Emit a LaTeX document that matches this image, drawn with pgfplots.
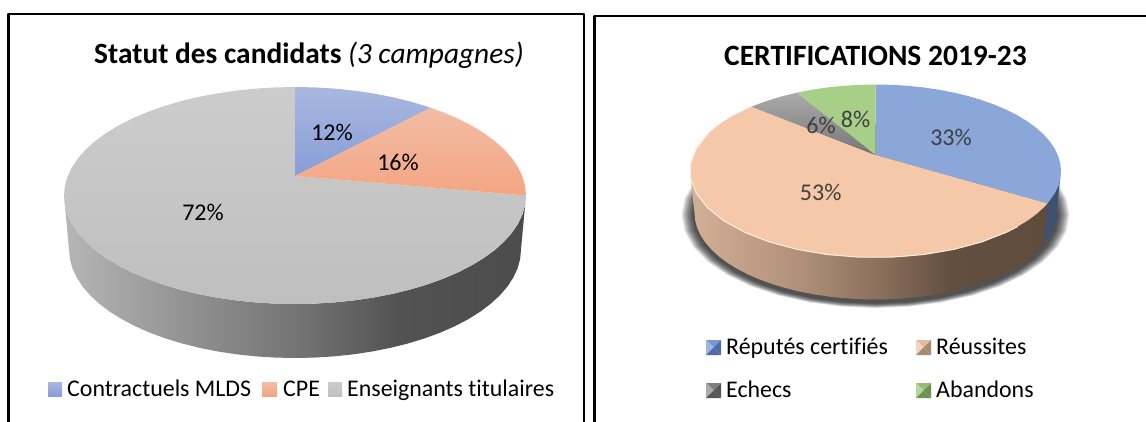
\documentclass[border=0pt]{standalone}
\usepackage{pgfplots}
\usepackage{pgfplotstable}
\usepackage{fontspec}
\setmainfont[Ligatures=NoCommon]{Carlito}
\pgfplotsset{compat=1.18}

\definecolor{Lblue1}{HTML}{AAB8DF}\definecolor{Lblue2}{HTML}{879DD8}
\definecolor{Lpeach1}{HTML}{F2BDA6}\definecolor{Lpeach2}{HTML}{F4A582}
\definecolor{Lgray1}{HTML}{CCCCCC}\definecolor{Lgray2}{HTML}{BFBFBF}
\definecolor{wl0}{HTML}{B6B6B6}\definecolor{wl1}{HTML}{8E8E8E}\definecolor{wl2}{HTML}{737373}\definecolor{wl3}{HTML}{525252}\definecolor{wl4}{HTML}{4C4C4C}
\definecolor{wr0}{HTML}{D3B096}\definecolor{wr1}{HTML}{B09078}\definecolor{wr2}{HTML}{8A6F5C}\definecolor{wr3}{HTML}{634F40}\definecolor{wr4}{HTML}{604C3D}
\definecolor{Rblue}{HTML}{8BA6D8}\definecolor{Rpeach}{HTML}{F4C8A9}\definecolor{Rgreen}{HTML}{A8CF88}
\definecolor{Rgray1}{HTML}{ABABAB}\definecolor{Rgray2}{HTML}{757575}
\definecolor{Rbluewall}{HTML}{3F5170}\definecolor{rim}{HTML}{FFEEDD}
\definecolor{lab}{HTML}{404040}
\definecolor{sb-l}{HTML}{9DB6E4}\definecolor{sb-d}{HTML}{4F6CA8}\definecolor{sb}{HTML}{7B97D0}
\definecolor{sp-l}{HTML}{F6D4BC}\definecolor{sp-d}{HTML}{A88A72}\definecolor{sp}{HTML}{E2BBA0}
\definecolor{sg-l}{HTML}{ABABAB}\definecolor{sg-d}{HTML}{555555}\definecolor{sg}{HTML}{808080}
\definecolor{sv-l}{HTML}{B4D898}\definecolor{sv-d}{HTML}{6F9150}\definecolor{sv}{HTML}{94BC74}

\pgfdeclarehorizontalshading{wallL}{100bp}{color(0bp)=(wl0); color(25bp)=(wl0); color(39.7bp)=(wl1); color(50.5bp)=(wl2); color(61.4bp)=(wl3); color(75bp)=(wl4); color(100bp)=(wl4)}
\pgfdeclarehorizontalshading{wallR}{100bp}{color(0bp)=(wr0); color(25bp)=(wr0); color(40.4bp)=(wr1); color(51.6bp)=(wr2); color(61.4bp)=(wr3); color(75bp)=(wr4); color(100bp)=(wr4)}

% t: position along the rim of the drawn ellipse (deg, clockwise from the top); r: 0 apex, 1 rim
\pgfplotstableread[row sep=\\]{t r\\ 0 0\\ 0 1\\ 5 1\\ 10 1\\ 15 1\\ 20 1\\ 25 1\\ 30 1\\ 36 1\\ 36 0\\}\LwedgeA
\pgfplotstableread[row sep=\\]{t r\\ 36 0\\ 36 1\\ 40 1\\ 45 1\\ 50 1\\ 55 1\\ 60 1\\ 65 1\\ 70 1\\ 75 1\\ 80 1\\ 85 1\\ 90 1\\ 90 0\\}\LwedgeB
\pgfplotstableread[row sep=\\]{t r\\ 90 0\\ 90 1\\ 95 1\\ 100 1\\ 105 1\\ 110 1\\ 115 1\\ 120 1\\ 125 1\\ 130 1\\ 135 1\\ 140 1\\ 145 1\\ 150 1\\ 155 1\\ 160 1\\ 165 1\\ 170 1\\ 175 1\\ 180 1\\ 185 1\\ 190 1\\ 195 1\\ 200 1\\ 205 1\\ 210 1\\ 215 1\\ 220 1\\ 225 1\\ 230 1\\ 235 1\\ 240 1\\ 245 1\\ 250 1\\ 255 1\\ 260 1\\ 265 1\\ 270 1\\ 275 1\\ 280 1\\ 285 1\\ 290 1\\ 295 1\\ 300 1\\ 305 1\\ 310 1\\ 315 1\\ 320 1\\ 325 1\\ 330 1\\ 335 1\\ 340 1\\ 345 1\\ 350 1\\ 355 1\\ 360 1\\ 360 0\\}\LwedgeC
\pgfplotstableread[row sep=\\]{t b\\ 90 0\\ 95 0\\ 100 0\\ 105 0\\ 110 0\\ 115 0\\ 120 0\\ 125 0\\ 130 0\\ 135 0\\ 140 0\\ 145 0\\ 150 0\\ 155 0\\ 160 0\\ 165 0\\ 170 0\\ 175 0\\ 180 0\\ 185 0\\ 190 0\\ 195 0\\ 200 0\\ 205 0\\ 210 0\\ 215 0\\ 220 0\\ 225 0\\ 230 0\\ 235 0\\ 240 0\\ 245 0\\ 250 0\\ 255 0\\ 260 0\\ 265 0\\ 270 0\\ 270 1\\ 265 1\\ 260 1\\ 255 1\\ 250 1\\ 245 1\\ 240 1\\ 235 1\\ 230 1\\ 225 1\\ 220 1\\ 215 1\\ 210 1\\ 205 1\\ 200 1\\ 195 1\\ 190 1\\ 185 1\\ 180 1\\ 175 1\\ 170 1\\ 165 1\\ 160 1\\ 155 1\\ 150 1\\ 145 1\\ 140 1\\ 135 1\\ 130 1\\ 125 1\\ 120 1\\ 115 1\\ 110 1\\ 105 1\\ 100 1\\ 95 1\\ 90 1\\}\Lwall

\pgfplotstableread[row sep=\\]{t r\\ 0 0\\ 0 1\\ 5 1\\ 10 1\\ 15 1\\ 20 1\\ 25 1\\ 30 1\\ 35 1\\ 40 1\\ 45 1\\ 50 1\\ 55 1\\ 60 1\\ 65 1\\ 70 1\\ 75 1\\ 80 1\\ 85 1\\ 90 1\\ 95 1\\ 100 1\\ 105 1\\ 112 1\\ 112 0\\}\RwedgeA
\pgfplotstableread[row sep=\\]{t r\\ 112 0\\ 112 1\\ 115 1\\ 120 1\\ 125 1\\ 130 1\\ 135 1\\ 140 1\\ 145 1\\ 150 1\\ 155 1\\ 160 1\\ 165 1\\ 170 1\\ 175 1\\ 180 1\\ 185 1\\ 190 1\\ 195 1\\ 200 1\\ 205 1\\ 210 1\\ 215 1\\ 220 1\\ 225 1\\ 230 1\\ 235 1\\ 240 1\\ 245 1\\ 250 1\\ 255 1\\ 260 1\\ 265 1\\ 270 1\\ 275 1\\ 280 1\\ 285 1\\ 290 1\\ 295 1\\ 300 1\\ 305 1\\ 310 1\\ 318 1\\ 318 0\\}\RwedgeB
\pgfplotstableread[row sep=\\]{t r\\ 318 0\\ 318 1\\ 323 1\\ 329 1\\ 335 1\\ 335 0\\}\RwedgeC
\pgfplotstableread[row sep=\\]{t r\\ 335 0\\ 335 1\\ 340 1\\ 345 1\\ 350 1\\ 355 1\\ 360 1\\ 360 0\\}\RwedgeD
\pgfplotstableread[row sep=\\]{t b\\ 112 0\\ 115 0\\ 120 0\\ 125 0\\ 130 0\\ 135 0\\ 140 0\\ 145 0\\ 150 0\\ 155 0\\ 160 0\\ 165 0\\ 170 0\\ 175 0\\ 180 0\\ 185 0\\ 190 0\\ 195 0\\ 200 0\\ 205 0\\ 210 0\\ 215 0\\ 220 0\\ 225 0\\ 230 0\\ 235 0\\ 240 0\\ 245 0\\ 250 0\\ 255 0\\ 260 0\\ 265 0\\ 270 0\\ 270 1\\ 265 1\\ 260 1\\ 255 1\\ 250 1\\ 245 1\\ 240 1\\ 235 1\\ 230 1\\ 225 1\\ 220 1\\ 215 1\\ 210 1\\ 205 1\\ 200 1\\ 195 1\\ 190 1\\ 185 1\\ 180 1\\ 175 1\\ 170 1\\ 165 1\\ 160 1\\ 155 1\\ 150 1\\ 145 1\\ 140 1\\ 135 1\\ 130 1\\ 125 1\\ 120 1\\ 115 1\\ 112 1\\}\Rwall
\pgfplotstableread[row sep=\\]{t b\\ 90 0\\ 95 0\\ 100 0\\ 105 0\\ 112 0\\ 112 1\\ 105 1\\ 100 1\\ 95 1\\ 90 1\\}\RwallB
\pgfplotstableread[row sep=\\]{t r\\ 130 1\\ 135 1\\ 145 1\\ 155 1\\ 165 1\\ 175 1\\ 185 1\\ 195 1\\ 205 1\\ 215 1\\ 225 1\\ 235 1\\ 245 1\\ 255 1\\ 265 1\\ 275 1\\ 285 1\\ 295 1\\}\Rrim
\pgfplotstableread[row sep=\\]{t r\\ 0 1\\ 10 1\\ 20 1\\ 30 1\\ 40 1\\ 50 1\\ 60 1\\ 70 1\\ 80 1\\ 90 1\\ 100 1\\ 110 1\\ 120 1\\ 130 1\\ 140 1\\ 150 1\\ 160 1\\ 170 1\\ 180 1\\ 190 1\\ 200 1\\ 210 1\\ 220 1\\ 230 1\\ 240 1\\ 250 1\\ 260 1\\ 270 1\\ 280 1\\ 290 1\\ 300 1\\ 310 1\\ 320 1\\ 330 1\\ 340 1\\ 350 1\\ 360 1\\}\Ring

\newcommand\Lwedge[2]{\addplot[#2,draw=none] table[x expr={295+\thisrow{r}*231*sin(\thisrow{t})},y expr={(1-\thisrow{r})*176+\thisrow{r}*(195.5-108.5*cos(\thisrow{t}))}]{#1};}
\newcommand\Rwedge[2]{\addplot[#2,draw=none] table[x expr={875.5+\thisrow{r}*185.5*sin(\thisrow{t})},y expr={(1-\thisrow{r})*155+\thisrow{r}*(171-86.5*cos(\thisrow{t}))}]{#1};}
\newcommand\Shadow[3]{\addplot[fill=black,fill opacity=0.09,draw=none] table[x expr={875.5+#1*sin(\thisrow{t})},y expr={#2-#3*cos(\thisrow{t})}]{\Ring};}
\newcommand\Swatch[7]{%
 \addplot[fill=#7,draw=none] coordinates {(#1,#3)(#2,#3)(#5,#6)};
 \addplot[fill=#7-l,draw=none] coordinates {(#1,#3)(#1,#4)(#5,#6)};
 \addplot[fill=#7-d,draw=none] coordinates {(#2,#3)(#2,#4)(#5,#6)};
 \addplot[fill=#7-d,draw=none] coordinates {(#1,#4)(#2,#4)(#5,#6)};}
\newcommand\Flat[6]{\addplot[top color=#5,bottom color=#6,draw=none] coordinates {(#1,#3)(#2,#3)(#2,#4)(#1,#4)};}

\begin{document}
\begin{tikzpicture}
\useasboundingbox (0,0) rectangle (1146pt,421pt);
\begin{axis}[at={(0,0)},anchor=south west,scale only axis,width=1146pt,height=421pt,
  xmin=0,xmax=1146,ymin=0,ymax=421,y dir=reverse,hide axis,no markers,
  every axis plot/.append style={line join=round}]
% frames
\addplot[black,line width=2.3pt] coordinates {(8.5,425)(8.5,14)(584,14)(584,425)};
\addplot[black,line width=2.3pt] coordinates {(594.5,425)(594.5,15.7)(1150,15.7)};
% left pie
\addplot[shading=wallL,draw=none] table[x expr={295+(231-5*\thisrow{b})*sin(\thisrow{t})},y expr={195.5+54*\thisrow{b}-108.5*cos(\thisrow{t})}]{\Lwall};
\Lwedge{\LwedgeC}{top color=Lgray1,bottom color=Lgray2}
\Lwedge{\LwedgeA}{top color=Lblue1,bottom color=Lblue2}
\Lwedge{\LwedgeB}{top color=Lpeach1,bottom color=Lpeach2}
% right pie
\Shadow{194}{215}{93}
\Shadow{193}{215}{92.6}
\Shadow{192}{215}{92.2}
\Shadow{191}{215}{91.8}
\Shadow{190}{215}{91.4}
\Shadow{189}{215}{91}
\Shadow{188}{215}{90.6}
\Shadow{187}{215}{90.2}
\Shadow{186}{215}{89.8}
\Shadow{185}{215}{89.4}
\Shadow{184}{215}{89}
\Shadow{183}{215}{88.6}
\addplot[fill=Rbluewall,draw=none] table[x expr={875.5+(185.5-4.5*\thisrow{b})*sin(\thisrow{t})},y expr={171+42*\thisrow{b}-86.5*cos(\thisrow{t})}]{\RwallB};
\addplot[shading=wallR,draw=none] table[x expr={875.5+(185.5-4.5*\thisrow{b})*sin(\thisrow{t})},y expr={171+42*\thisrow{b}-86.5*cos(\thisrow{t})}]{\Rwall};
\Rwedge{\RwedgeA}{fill=Rblue}
\Rwedge{\RwedgeB}{fill=Rpeach}
\Rwedge{\RwedgeC}{top color=Rgray1,bottom color=Rgray2}
\Rwedge{\RwedgeD}{fill=Rgreen}
\addplot[draw=rim,line width=1pt] table[x expr={875.5+185.5*sin(\thisrow{t})},y expr={171-86.5*cos(\thisrow{t})}]{\Rrim};
% left legend keys
\Flat{48}{62}{382}{396}{Lblue1}{Lblue2}
\Flat{262}{277}{382}{396}{Lpeach1}{Lpeach2}
\Flat{328}{342}{382}{396}{Lgray1}{Lgray2}
% right legend keys
\Swatch{706}{721}{340}{355}{713.5}{347.5}{sb}
\Swatch{916}{931}{340}{355}{923.5}{347.5}{sp}
\Swatch{706}{721}{383}{398}{713.5}{390.5}{sg}
\Swatch{916}{931}{383}{398}{923.5}{390.5}{sv}
% titles
\node[anchor=center,font=\fontsize{29.4}{32}\selectfont] at (axis cs:309,55) {\textbf{Statut des candidats} \textit{(3 campagnes)}};
\node[anchor=center,font=\fontsize{29.5}{32}\bfseries\selectfont] at (axis cs:875.5,56) {CERTIFICATIONS 2019-23};
% data labels
\node[font=\fontsize{24}{28}\selectfont] at (axis cs:332,132) {12\%};
\node[font=\fontsize{24}{28}\selectfont] at (axis cs:398,162) {16\%};
\node[font=\fontsize{24}{28}\selectfont] at (axis cs:203,212) {72\%};
\node[text=lab,font=\fontsize{24}{28}\selectfont] at (axis cs:951,137) {33\%};
\node[text=lab,font=\fontsize{24}{28}\selectfont] at (axis cs:820.7,192) {53\%};
\node[text=lab,font=\fontsize{24}{28}\selectfont] at (axis cs:821,125.5) {6\%};
\node[text=lab,font=\fontsize{24}{28}\selectfont] at (axis cs:855.5,119) {8\%};
% legend text
\node[anchor=base west,inner sep=0pt,font=\fontsize{23.9}{28}\selectfont] at (axis cs:67,396) {Contractuels MLDS};
\node[anchor=base west,inner sep=0pt,font=\fontsize{23.9}{28}\selectfont] at (axis cs:283,396) {CPE};
\node[anchor=base west,inner sep=0pt,font=\fontsize{23.9}{28}\selectfont] at (axis cs:347,396) {Enseignants titulaires};
\node[anchor=base west,inner sep=0pt,font=\fontsize{23.9}{28}\selectfont] at (axis cs:726,354) {Réputés certifiés};
\node[anchor=base west,inner sep=0pt,font=\fontsize{23.9}{28}\selectfont] at (axis cs:936,354) {Réussites};
\node[anchor=base west,inner sep=0pt,font=\fontsize{23.9}{28}\selectfont] at (axis cs:726,397) {Echecs};
\node[anchor=base west,inner sep=0pt,font=\fontsize{23.9}{28}\selectfont] at (axis cs:936,397) {Abandons};
\end{axis}
\end{tikzpicture}
\end{document}
